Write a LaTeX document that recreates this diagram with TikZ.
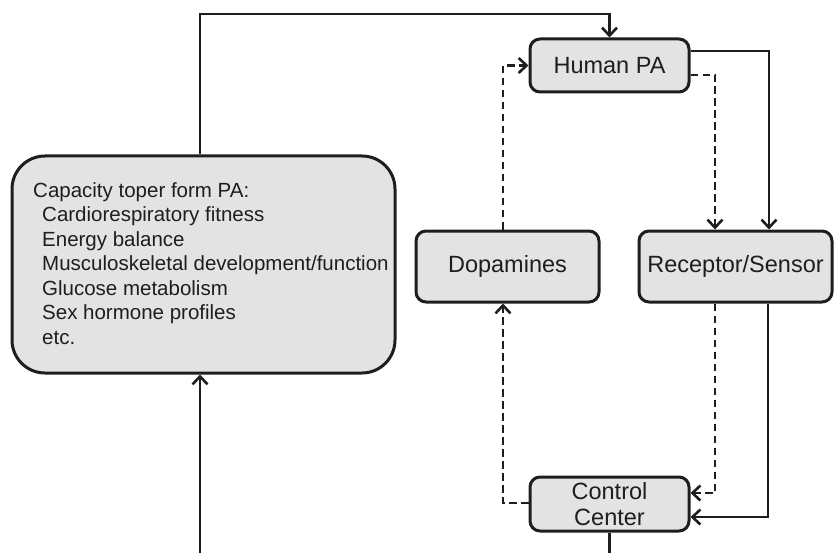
\documentclass[tikz,border=0pt]{standalone}
\usepackage{fontspec}
\setmainfont{Liberation Sans}
\usetikzlibrary{arrows.meta}
\definecolor{boxfill}{HTML}{E3E3E3}
\definecolor{ink}{HTML}{1E1E1E}
\tikzset{
  box/.style={draw=ink, fill=boxfill, line width=3pt, rounded corners=10pt,
    inner sep=0pt, anchor=center, text=ink, font=\fontsize{23.5}{26.5}\selectfont, align=center},
  conn/.style={draw=ink, line width=2.6pt, -{Straight Barb[length=8pt,width=15pt]}},
  plain/.style={draw=ink, line width=2.6pt},
  dconn/.style={conn, dash pattern=on 7.5pt off 4.5pt},
}
\begin{document}
\begin{tikzpicture}[x=1pt,y=-1pt]
\useasboundingbox (0,0) rectangle (834,553);
\node[box, minimum width=159pt, minimum height=53pt] (hpa) at (609.5,65.5) {Human PA};
\node[box, minimum width=183pt, minimum height=71pt] (dop) at (507.5,266.5) {Dopamines};
\node[box, minimum width=193pt, minimum height=71pt] (rec) at (735.5,266.5) {Receptor/Sensor};
\node[box, minimum width=159pt, minimum height=54pt] (cc) at (609.5,504) {Control\\Center};
\node[box, rounded corners=33pt, minimum width=383pt, minimum height=217pt] (cap) at (203.5,264.5) {};
\node[anchor=north west, inner sep=0pt, text=ink, align=left, font=\fontsize{20.5}{24.5}\selectfont] (captext) at (33,182)
 {Capacity toper form PA:\\
  \hspace*{9pt}Cardiorespiratory fitness\\
  \hspace*{9pt}Energy balance\\
  \hspace*{9pt}Musculoskeletal development/function\\
  \hspace*{9pt}Glucose metabolism\\
  \hspace*{9pt}Sex hormone profiles\\
  \hspace*{9pt}etc.};
\coordinate (top) at (200,14);
\coordinate (bl) at (200,553);
\coordinate (br) at (609.5,553);
% top loop
\draw[conn] ([xshift=-3.5pt]cap.north) -- (top) -| (hpa.north);
% Human PA to receptor
\draw[conn] ([yshift=14.5pt]hpa.east) -| ([xshift=33.5pt]rec.north);
\draw[dconn] ([yshift=-9.5pt]hpa.east) -| ([xshift=-20.5pt]rec.north);
% dopamines to human PA
\draw[dconn] ([xshift=-4.5pt]dop.north) |- (hpa.west);
% receptor to control center
\draw[dconn] ([xshift=-20.5pt]rec.south) |- ([yshift=11pt]cc.east);
\draw[conn] ([xshift=32.5pt]rec.south) |- ([yshift=-13pt]cc.east);
% control center to dopamines
\draw[dconn] ([yshift=1pt]cc.west) -| ([xshift=-4.5pt]dop.south);
% bottom
\draw[plain] (cc.south) -- (br);
\draw[conn] (bl) -- ([xshift=-3.5pt]cap.south);
\end{tikzpicture}
\end{document}
